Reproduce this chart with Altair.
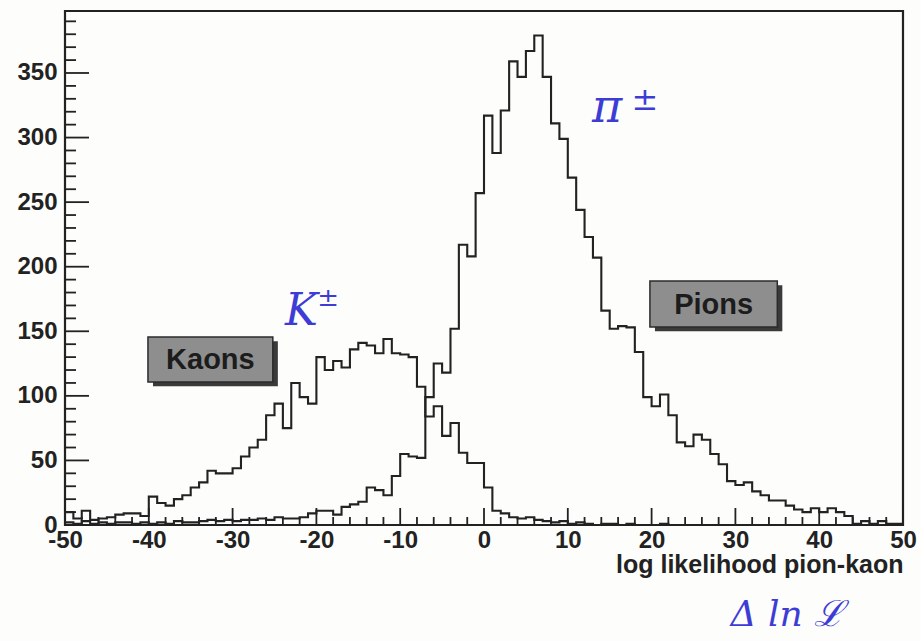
import altair as alt
import pandas as pd

# Histogram contents, 1-unit bins from -50 to 50 (left edges -50 ... 49)
bin_lo = list(range(-50, 50))

pion_counts = [
    2, 1, 3, 1, 2, 1, 2, 2, 1, 2,            # -50 .. -41
    1, 2, 1, 3, 2, 2, 3, 4, 3, 4,            # -40 .. -31
    3, 4, 4, 5, 4, 6, 5, 5, 6, 9,            # -30 .. -21
    11, 11, 8, 14, 16, 18, 29, 27, 23, 38,   # -20 .. -11
    55, 53, 52, 99, 125, 118, 152, 217, 208, 257,   # -10 .. -1
    317, 288, 321, 359, 347, 367, 379, 347, 311, 299,  # 0 .. 9
    269, 244, 223, 207, 166, 152, 154, 153, 134, 99,   # 10 .. 19
    92, 101, 85, 64, 61, 70, 66, 55, 47, 34,  # 20 .. 29
    31, 33, 26, 23, 19, 19, 15, 12, 10, 13,   # 30 .. 39
    10, 13, 10, 7, 1, 3, 1, 3, 1, 1,          # 40 .. 49
]

kaon_counts = [
    10, 5, 11, 4, 5, 6, 8, 9, 9, 7,           # -50 .. -41
    22, 17, 15, 20, 23, 29, 33, 42, 40, 40,   # -40 .. -31
    44, 53, 60, 66, 85, 94, 75, 110, 99, 94,  # -30 .. -21
    130, 120, 127, 122, 136, 141, 139, 133, 144, 133,  # -20 .. -11
    132, 130, 107, 84, 92, 69, 79, 56, 48, 48,  # -10 .. -1
    29, 11, 9, 6, 5, 6, 4, 3, 2, 3,          # 0 .. 9
    1, 2, 1, 0, 1, 1, 0, 1, 0, 0,            # 10 .. 19
    0, 1, 0, 0, 0, 0, 0, 0, 0, 0,            # 20 .. 29
    0, 0, 0, 0, 0, 0, 0, 0, 0, 0,            # 30 .. 39
    0, 0, 0, 0, 0, 0, 0, 0, 0, 0,            # 40 .. 49
]

x_label_values = list(range(-50, 51, 10))
y_label_values = list(range(0, 351, 50))
x_tick_values = list(range(-50, 51, 2))
y_tick_values = list(range(0, 391, 10))

# Plot geometry and styling
W, H = 838, 514
X_DOMAIN = [-50, 50]
Y_DOMAIN = [0, 398]
INK = "#222222"
PEN = "#3d3dd6"
FONT = "Liberation Sans"


def hist_rows(name, counts):
    rows = [{"series": name, "x": lo, "count": c} for lo, c in zip(bin_lo, counts)]
    rows.append({"series": name, "x": X_DOMAIN[1], "count": counts[-1]})
    return rows


hist_df = pd.DataFrame(hist_rows("Pions", pion_counts) + hist_rows("Kaons", kaon_counts))

xs = alt.Scale(domain=X_DOMAIN, nice=False, zero=False)
ys = alt.Scale(domain=Y_DOMAIN, nice=False, zero=False)

x_axis = alt.Axis(
    values=x_label_values, labelExpr="'' + datum.value", grid=False, domain=False,
    ticks=False, tickSize=0, labelFont=FONT, labelFontWeight="bold", labelFontSize=24,
    labelColor=INK, labelPadding=3, labelFlush=False, labelOverlap=False,
    title="log likelihood pion-kaon", titleFont=FONT, titleFontWeight="bold",
    titleFontSize=25, titleColor=INK, titleX=W, titleY=47, titleAlign="right",
    titleBaseline="alphabetic",
)
y_axis = alt.Axis(
    values=y_label_values, labelExpr="'' + datum.value", grid=False, domain=False,
    ticks=False, tickSize=0, labelFont=FONT, labelFontWeight="bold", labelFontSize=24,
    labelColor=INK, labelPadding=8, labelFlush=False, labelOverlap=False, title=None,
)


def X(field):
    return alt.X(field, scale=xs, axis=x_axis)


def Y(field):
    return alt.Y(field, scale=ys, axis=y_axis)


hist = alt.Chart(hist_df).mark_line(
    interpolate="step-after", color=INK, strokeWidth=2.1
).encode(
    x=X("x:Q"),
    y=Y("count:Q"),
    detail="series:N",
)

# Inward-pointing ticks along the bottom and left edges of the frame
xt = pd.DataFrame({"v": x_tick_values})
xt["major"] = xt["v"] % 10 == 0
yt = pd.DataFrame({"v": y_tick_values})
yt["major"] = yt["v"] % 50 == 0


def x_ticks(major, length):
    return alt.Chart(xt[xt["major"] == major]).mark_rule(color=INK, strokeWidth=1.8).encode(
        x=X("v:Q"),
        y=alt.value(H),
        y2=alt.value(H - length),
    )


def y_ticks(major, length):
    return alt.Chart(yt[yt["major"] == major]).mark_rule(color=INK, strokeWidth=1.8).encode(
        y=Y("v:Q"),
        x=alt.value(0),
        x2=alt.value(length),
    )


ticks = x_ticks(True, 17) + x_ticks(False, 8) + y_ticks(True, 24) + y_ticks(False, 11)

# Labelled boxes for the two particle species
boxes = pd.DataFrame({
    "label": ["Kaons", "Pions"],
    "x0": [-40.1, 19.8], "x1": [-25.2, 35.0],
    "y0": [110.7, 153.3], "y1": [145.6, 188.9],
})
boxes["cx"] = (boxes["x0"] + boxes["x1"]) / 2
boxes["cy"] = (boxes["y0"] + boxes["y1"]) / 2
boxes["sx0"] = boxes["x0"] + 0.6
boxes["sx1"] = boxes["x1"] + 0.6
boxes["sy0"] = boxes["y0"] - 3.3
boxes["sy1"] = boxes["y1"] - 3.3

box_shadow = alt.Chart(boxes).mark_rect(color="#3a3a3a").encode(
    x=X("sx0:Q"), x2="sx1:Q",
    y=Y("sy0:Q"), y2="sy1:Q",
)
box_face = alt.Chart(boxes).mark_rect(
    color="#8e8e8e", stroke="#2b2b2b", strokeWidth=1.5
).encode(
    x=X("x0:Q"), x2="x1:Q",
    y=Y("y0:Q"), y2="y1:Q",
)
box_text = alt.Chart(boxes).mark_text(
    font=FONT, fontWeight="bold", fontSize=29, color="#1c1c1c",
    align="center", baseline="middle", dy=1,
).encode(
    x=X("cx:Q"),
    y=Y("cy:Q"),
    text="label:N",
)

# Pen annotations
notes = pd.DataFrame({
    "text": ["K", "±", "π", "±", "Δ ln ℒ"],
    "x": [-21.8, -18.6, 14.7, 19.2, 36.2],
    "y": [164.9, 176.0, 322.9, 329.0, -69.7],
    "size": [44, 26, 46, 32, 36],
})
pen = alt.Chart(notes).mark_text(
    font="DejaVu Serif", fontStyle="italic", color=PEN, align="center", baseline="middle"
).encode(
    x=X("x:Q"),
    y=Y("y:Q"),
    text="text:N",
    size=alt.Size("size:Q", scale=None, legend=None),
)

chart = alt.layer(ticks, hist, box_shadow, box_face, box_text, pen).properties(
    width=W, height=H,
    autosize=alt.AutoSizeParams(type="none"),
    padding={"left": 65, "top": 11, "right": 18, "bottom": 116},
    background="#fdfdfb",
).configure_view(stroke=INK, strokeWidth=2.2)

chart.save("out.html", embed_options={"renderer": "svg", "actions": False})
